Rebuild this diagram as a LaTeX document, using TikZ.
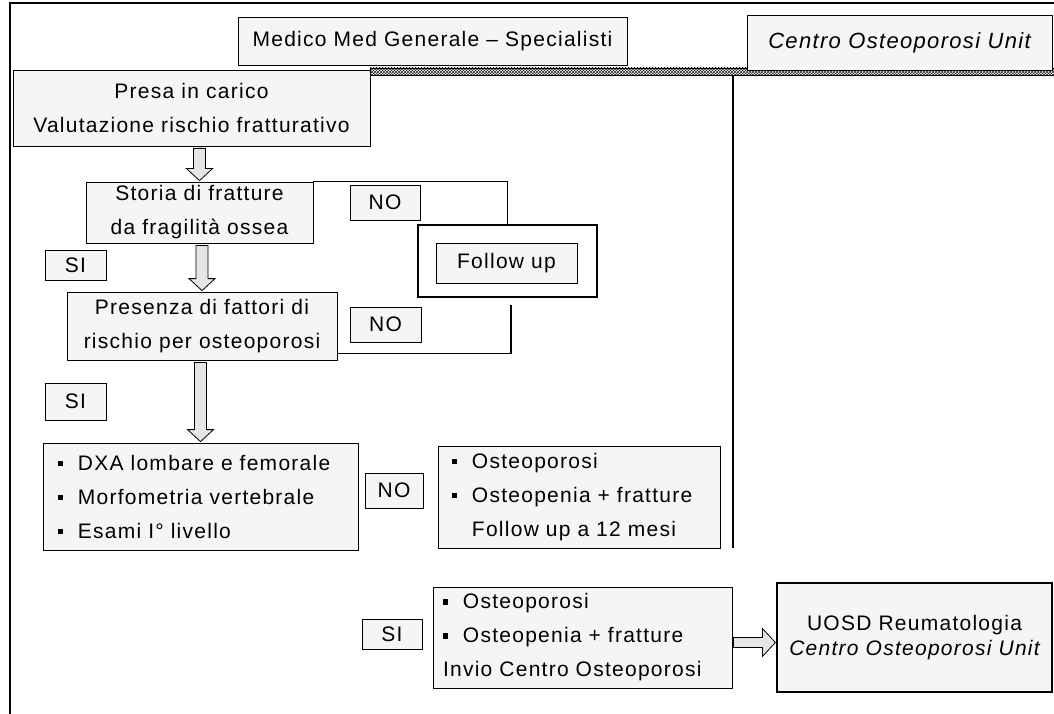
\documentclass[tikz,border=0pt]{standalone}
\usepackage{fontspec}
\setmainfont{Liberation Sans}[LetterSpace=6]
\usetikzlibrary{calc,patterns}
\tikzset{>=stealth}
\tikzset{
  box/.style={draw, line width=0.8pt, fill=black!4, inner sep=0pt, align=center, font=\fontsize{21}{34}\selectfont},
  listbox/.style={box, align=left},
  link/.style={draw, line width=1.2pt},
  blockarr/.style={draw, line width=0.8pt, fill=black!10},
}
\newcommand{\sqbul}{\rule[0.2em]{0.25em}{0.25em}\hspace{0.7em}}
\newcommand{\hollowdown}[2]{%
  \draw[blockarr] let \p1=(#1), \p2=(#2) in
    (\x2-6pt,\y1-2pt) -- (\x2+6pt,\y1-2pt) -- (\x2+6pt,\y2+13pt) -- (\x2+13pt,\y2+13pt)
    -- (\x2,\y2+1pt) -- (\x2-13pt,\y2+13pt) -- (\x2-6pt,\y2+13pt) -- cycle;}
\newcommand{\hollowright}[2]{%
  \draw[blockarr] let \p1=(#1), \p2=(#2) in
    (\x1+1pt,\y1+5pt) -- (\x2-14pt,\y1+5pt) -- (\x2-14pt,\y1+14pt) -- (\x2-1pt,\y1)
    -- (\x2-14pt,\y1-14pt) -- (\x2-14pt,\y1-5pt) -- (\x1+1pt,\y1-5pt) -- cycle;}

\begin{document}
\begin{tikzpicture}[x=1pt, y=-1pt]
    \useasboundingbox (0,0) rectangle (1054,714);
    \draw[line width=1.6pt] (10,714) -- (10,3) -- (1054,3);
    \draw[line width=0.5pt, fill=black!30, pattern=crosshatch, pattern color=black!90] (370,68) rectangle (1054,75);
    \draw[line width=1.8pt] (733,75) -- (733,548);

    \node[box, minimum width=389pt, minimum height=48pt] (medico) at (432.5,41) {Medico Med Generale – Specialisti};
    \node[box, minimum width=305pt, minimum height=55pt, font=\fontsize{22}{26}\selectfont\itshape] (centro) at (899.5,42.5) {Centro Osteoporosi Unit};

    \node[box, minimum width=357pt, minimum height=76pt] (presa) at (191.5,108) {Presa in carico\\Valutazione rischio fratturativo};
    \node[box, minimum width=227pt, minimum height=61pt] (storia) at (199.5,212.5) {Storia di fratture\\da fragilità ossea};
    \node[box, minimum width=70pt, minimum height=35pt] (noA) at (385,202.5) {NO};
    \node[box, line width=1.6pt, fill=white, minimum width=179pt, minimum height=72pt] (followbox) at (507.5,261) {};
    \node[box, minimum width=141pt, minimum height=40pt] (follow) at (506.5,263) {Follow up};
    \node[box, minimum width=61pt, minimum height=30pt] (siA) at (75.5,265) {SI};
    \node[box, minimum width=270pt, minimum height=68pt] (presenza) at (202,326) {Presenza di fattori di\\rischio per osteoporosi};
    \node[box, minimum width=71pt, minimum height=35pt] (noB) at (385.5,324.5) {NO};
    \node[box, minimum width=61pt, minimum height=37pt] (siB) at (75.5,401.5) {SI};

    \node[listbox, text width=285pt, inner xsep=15pt, minimum height=107pt] (dxa) at (200.5,496.5)
        {\sqbul DXA lombare e femorale\\\sqbul Morfometria vertebrale\\\sqbul Esami I° livello};
    \node[box, minimum width=58pt, minimum height=35pt] (noC) at (394,490.5) {NO};
    \node[listbox, text width=254pt, inner xsep=14pt, minimum height=102pt] (osteoA) at (579,497)
        {\sqbul Osteoporosi\\\sqbul Osteopenia + fratture\\\phantom{\sqbul}Follow up a 12 mesi};

    \node[box, minimum width=60pt, minimum height=30pt] (siC) at (392,634) {SI};
    \node[listbox, text width=279pt, inner xsep=10pt, minimum height=101pt] (osteoB) at (582.5,637.5)
        {\sqbul Osteoporosi\\\sqbul Osteopenia + fratture\\Invio Centro Osteoporosi};
    \node[box, line width=1.2pt, minimum width=275pt, minimum height=109pt, font=\fontsize{21}{25}\selectfont] (uosd) at (914.5,637.5)
        {UOSD Reumatologia\\{\itshape Centro Osteoporosi Unit}};

    \draw[link] (storia.north east) -| (followbox.north);
    \coordinate (nojoin) at (511,305);
    \draw[link] ([yshift=7pt]presenza.south east) -| (nojoin);

    \hollowdown{presa.south}{storia.north}
    \hollowdown{storia.south}{presenza.north}
    \hollowdown{presenza.south}{dxa.north}
    \hollowright{[yshift=-5pt]osteoB.east}{uosd.west}
\end{tikzpicture}
\end{document}
